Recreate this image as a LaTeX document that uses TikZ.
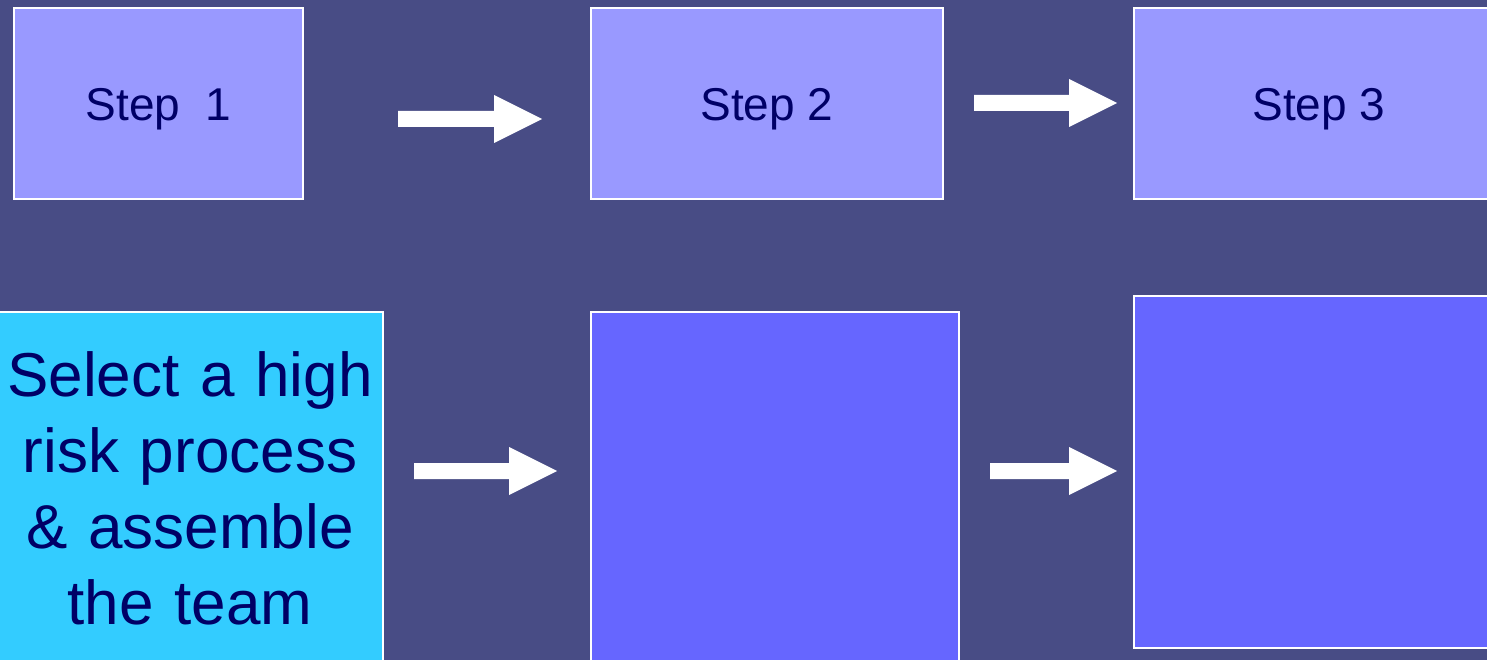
\documentclass[tikz,border=0pt]{standalone}
\usepackage{fontspec}
\setmainfont{Liberation Sans}
\definecolor{slate}{HTML}{484C85}
\definecolor{lilac}{HTML}{9999FF}
\definecolor{skycyan}{HTML}{33CCFF}
\definecolor{violetblue}{HTML}{6666FF}
\definecolor{navytext}{HTML}{000066}
\tikzset{
  stepbox/.style={draw=white, line width=2pt, fill=lilac, anchor=north west,
    inner sep=0pt, text=navytext, font=\fontsize{46}{54}\selectfont,
    text height=35pt, text depth=0pt},
  taskbox/.style={draw=white, line width=2pt, anchor=north west, inner sep=0pt,
    text=navytext},
  fatarrow/.style={fill=white}
}
% block arrow from #1 to tip #2: shaft half-width 8, head half-width 24, head length 48
\newcommand\blockarrow[2]{%
  \fill[fatarrow] ([yshift=8pt]#1) -- ([xshift=-48pt,yshift=8pt]#2)
    -- ([xshift=-48pt,yshift=24pt]#2) -- (#2)
    -- ([xshift=-48pt,yshift=-24pt]#2) -- ([xshift=-48pt,yshift=-8pt]#2)
    -- ([yshift=-8pt]#1) -- cycle;}
\begin{document}
\begin{tikzpicture}[x=1pt,y=-1pt]
  \useasboundingbox (0,0) rectangle (1487,660);
  \fill[slate] (0,0) rectangle (1487,660);
  \clip (0,0) rectangle (1487,660);

  % top row
  \node[stepbox, minimum width=289pt, minimum height=191pt] (s1) at (13,7) {Step\ \ 1};
  \node[stepbox, minimum width=352pt, minimum height=191pt] (s2) at (590,7) {Step 2};
  \node[stepbox, minimum width=370pt, minimum height=191pt] (s3) at (1133,7) {Step 3};

  % bottom row
  \node[taskbox, fill=skycyan, minimum width=386pt, minimum height=352pt,
        text width=386pt, align=center,
        font=\fontsize{62}{76}\selectfont] (t1) at (-4,311)
        {Select a high\\risk process\\\& assemble\\the team};
  \node[taskbox, fill=violetblue, minimum width=368pt, minimum height=352pt] (t2) at (590,311) {};
  \node[taskbox, fill=violetblue, minimum width=370pt, minimum height=352pt] (t3) at (1133,295) {};

  % arrows
  \coordinate (a1s) at (398,119);  \coordinate (a1e) at (542,119);
  \coordinate (a2s) at (974,103);  \coordinate (a2e) at (1117,103);
  \coordinate (a3s) at (414,471);  \coordinate (a3e) at (557,471);
  \coordinate (a4s) at (990,471);  \coordinate (a4e) at (1117,471);
  \blockarrow{a1s}{a1e}
  \blockarrow{a2s}{a2e}
  \blockarrow{a3s}{a3e}
  \blockarrow{a4s}{a4e}
\end{tikzpicture}
\end{document}
